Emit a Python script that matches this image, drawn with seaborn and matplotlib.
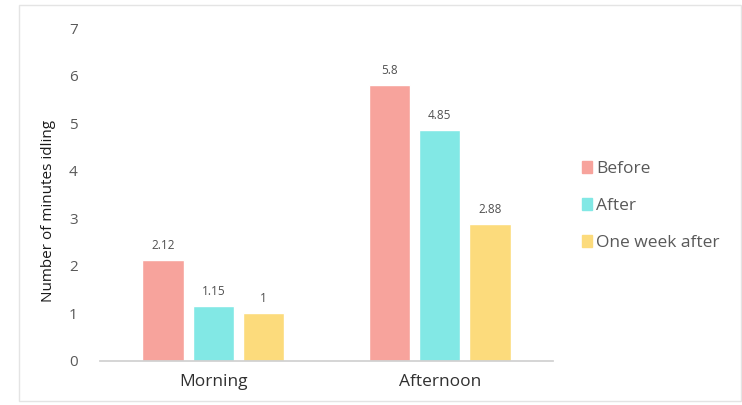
import matplotlib
matplotlib.use("Agg")
import matplotlib.pyplot as plt
import matplotlib.patches as mpatches
import pandas as pd
import seaborn as sns

# data
periods = ["Morning", "Afternoon"]
phases = ["Before", "After", "One week after"]
before = [2.12, 5.8]
after = [1.15, 4.85]
week_after = [1, 2.88]
colors = ["#F7A39C", "#82E8E5", "#FCDB7C"]

df = pd.DataFrame({
    "period": periods * 3,
    "phase": [p for p in phases for _ in periods],
    "minutes": before + after + week_after,
})

sns.set_theme(style="white")
plt.rcParams["font.family"] = ["Open Sans", "DejaVu Sans"]

fig = plt.figure(figsize=(7.42, 4.05), dpi=100)
ax = fig.add_axes([100 / 742, 44 / 405, 453 / 742, 333 / 405])

sns.barplot(data=df, x="period", y="minutes", hue="phase", order=periods,
            hue_order=phases, palette=colors, width=0.667, gap=0.18,
            saturation=1, ax=ax, legend=False)

# value labels above the bars
for cont in ax.containers:
    labels = [f"{v:g}" for v in cont.datavalues]
    ax.bar_label(cont, labels=labels, padding=6, fontsize=8.5, color="#505050")

ax.set_xlim(-0.5, 1.5)
ax.set_ylim(0, 7)
ax.set_yticks(range(0, 8))
for s in ["top", "right", "left"]:
    ax.spines[s].set_visible(False)
ax.spines["bottom"].set_color("#D0D0D0")
ax.tick_params(axis="y", length=0, pad=16, labelsize=11, labelcolor="#595959")
ax.tick_params(axis="x", length=0, pad=9, labelsize=12.5, labelcolor="#303030")
ax.set_xlabel("")
ax.set_ylabel("Number of minutes idling", fontsize=11, color="#1a1a1a")
ax.yaxis.set_label_coords(-0.097, 0.45)

handles = [mpatches.Patch(color=c, label=p) for c, p in zip(colors, phases)]
fig.legend(handles=handles, loc="upper left", bbox_to_anchor=(566 / 742, 1 - 145 / 405),
           frameon=False, fontsize=12.5, handlelength=0.6, handleheight=0.7,
           handletextpad=0.25, labelspacing=1.2, labelcolor="#595959")

# thin frame around the chart area
fig.patches.append(mpatches.Rectangle((19 / 742, 4 / 405), 722 / 742, 396 / 405,
                                      transform=fig.transFigure, fill=False,
                                      edgecolor="#E4E4E4", linewidth=1))

fig.savefig("out.png", dpi=100)
